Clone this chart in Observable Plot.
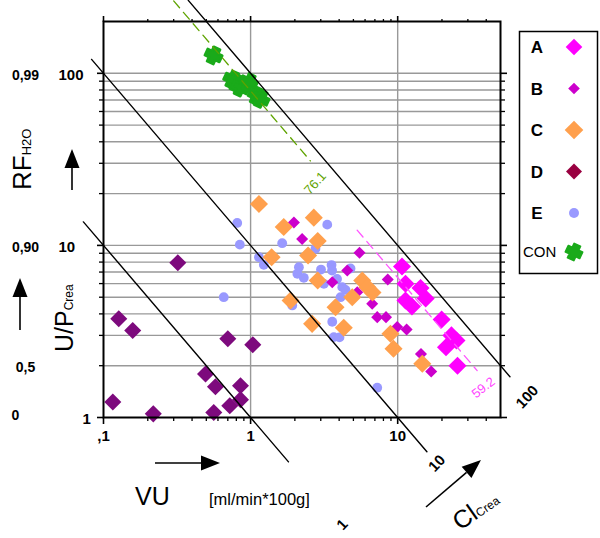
<!DOCTYPE html>
<html><head><meta charset="utf-8">
<script src="https://cdn.jsdelivr.net/npm/d3@7"></script>
<script src="https://cdn.jsdelivr.net/npm/@observablehq/plot@0.6"></script>
<style>
  html,body{margin:0;padding:0;background:#fff}
  #chart svg{display:block;overflow:visible}
</style>
</head><body><div id="chart"></div>
<script>
// ---------- data (VU in ml/min*100g, U/P creatinine ratio) ----------
const aVU = [10.7, 11.3, 14.3, 11.3, 12.5, 15.5, 19.9, 23.2, 25.1, 21.3, 25.5];
const aUP = [7.54, 5.98, 5.65, 4.78, 4.42, 4.91, 3.71, 3.00, 2.80, 2.56, 2.00];
const bVU = [1.97, 2.24, 5.50, 4.54, 3.59, 5.31, 8.56, 6.71, 7.26, 8.33, 9.92, 11.5, 14.4, 16.9];
const bUP = [13.6, 10.9, 9.06, 7.15, 6.11, 5.35, 6.34, 4.58, 3.83, 3.83, 3.36, 3.25, 2.34, 1.85];
const cVU = [1.14, 2.69, 1.68, 2.86, 2.46, 1.39, 2.86, 1.87, 4.91, 3.78, 2.62, 4.30, 5.74, 6.23, 6.74, 8.93, 9.37, 14.7];
const cUP = [17.4, 14.5, 12.8, 10.6, 8.74, 8.54, 6.25, 4.79, 5.00, 4.37, 3.50, 3.32, 6.25, 5.72, 5.33, 3.07, 2.51, 2.05];
const dVU = [0.320, 0.127, 0.158, 0.70, 1.035, 0.494, 0.577, 0.854, 0.1157, 0.218, 0.562, 0.722, 0.854];
const dUP = [7.92, 3.75, 3.20, 2.87, 2.65, 1.79, 1.51, 1.53, 1.23, 1.05, 1.07, 1.17, 1.27];
const eVU = [0.811, 0.845, 0.657, 1.14, 1.23, 1.64, 3.32, 2.13, 2.08, 2.30, 3.01, 3.55, 3.58, 4.78, 3.15, 3.87, 4.20, 4.42, 4.09, 1.92, 3.59, 3.68, 4.02, 7.26, 2.76];
const eUP = [13.5, 10.1, 5.00, 8.54, 7.71, 10.3, 13.2, 7.47, 6.84, 6.48, 7.24, 7.69, 7.15, 7.34, 5.98, 6.38, 5.72, 5.51, 5.00, 4.48, 3.60, 2.93, 2.92, 1.49, 9.56];
const conVU = [0.56, 0.75, 0.80, 0.854, 0.972, 1.10, 1.17];
const conUP = [127, 92, 88, 82.7, 88.8, 74, 71.1];

// iso-clearance lines Cl = VU * U/P
const ciValues = [1, 10, 100];
const ciFrom = [0.073, 0.083, 0.377];
const ciTo = [1.81, 15.8, 58];
const ciLabelVU = [4.2, 18.5, 76];
const ciLabels = ["1", "10", "100"];
// dashed mean lines
const conLine = {ci: 79, from: 0.30, to: 2.55, label: "76.1", labelVU: 2.75, labelUP: 23};
const aLine = {ci: 65, from: 5.3, to: 34.7, label: "59.2", labelVU: 38.2, labelUP: 1.49};

// ticks
const xMinorTicks = [0.2,0.3,0.4,0.5,0.6,0.7,0.8,0.9,2,3,4,5,6,7,8,9,20,30,40];
const xMajorTicks = [0.1, 1, 10];
const xTickLabels = [",1", "1", "10"];
const yMinorTicks = [2,3,4,5,6,7,8,9,20,30,40,50,60,70,80,90];
const yMajorTicks = [1, 10, 100];
const yGridLines = [2,3,4,5,6,7,8,9,10,20,30,40,50,60,70,80,90,100];
const xGridLines = [1, 10];
const rfTickValues = [100, 10, 2, 1];
const rfTickLabels = ["0,99", "0,90", "0,5", "0"];

// legend
const legendKeys = ["A", "B", "C", "D", "E"];
const colA = "#ff00ff", colB = "#cc00cc", colC = "#ffa04d", colD = "#7d0a7d", colE = "#9999ff", colCON = "#1aaa1a";

// ---------- symbols ----------
const diamondSym = {draw(ctx, size) {
  const h = Math.sqrt(size / 2);
  ctx.moveTo(0, -h); ctx.lineTo(h, 0); ctx.lineTo(0, h); ctx.lineTo(-h, 0); ctx.closePath();
}};
const crossSym = {draw(ctx, size) {
  const r = Math.sqrt(size / Math.PI), L = r * 1.1, w = r * 0.48, a = 25 * Math.PI / 180;
  const pts = [[-w,-L],[w,-L],[w,-w],[L,-w],[L,w],[w,w],[w,L],[-w,L],[-w,w],[-L,w],[-L,-w],[-w,-w]]
    .map(([x, y]) => [x * Math.cos(a) - y * Math.sin(a), x * Math.sin(a) + y * Math.cos(a)]);
  ctx.moveTo(...pts[0]); pts.slice(1).forEach(p => ctx.lineTo(...p)); ctx.closePath();
}};

const rows = (vu, up) => vu.map((v, i) => ({vu: v, up: up[i]}));
const ciRows = ciValues.flatMap((c, i) => [{ci: c, vu: ciFrom[i], up: c / ciFrom[i]}, {ci: c, vu: ciTo[i], up: c / ciTo[i]}]);
const segRows = L => [{vu: L.from, up: L.ci / L.from}, {vu: L.to, up: L.ci / L.to}];
const noText = () => "";
const font = "Liberation Sans, Arial, Helvetica, sans-serif";

const plot = Plot.plot({
  width: 600, height: 538,
  marginLeft: 103, marginRight: 100, marginTop: 21, marginBottom: 121,
  x: {type: "log", domain: [0.1, 50], label: null},
  y: {type: "log", domain: [1, 200], label: null},
  style: {fontFamily: font, background: "white", overflow: "visible"},
  marks: [
    Plot.ruleY(yGridLines, {y: d => d, stroke: "#999", strokeWidth: 1.4}),
    Plot.ruleX(xGridLines, {x: d => d, stroke: "#999", strokeWidth: 1.4}),
    Plot.dot(rows(eVU, eUP), {x: "vu", y: "up", r: 4.9, fill: colE, stroke: "none"}),
    Plot.dot(rows(bVU, bUP), {x: "vu", y: "up", r: 4.8, symbol: diamondSym, fill: colB, stroke: "none"}),
    Plot.dot(rows(cVU, cUP), {x: "vu", y: "up", r: 7.2, symbol: diamondSym, fill: colC, stroke: "none"}),
    Plot.dot(rows(aVU, aUP), {x: "vu", y: "up", r: 7.2, symbol: diamondSym, fill: colA, stroke: "none"}),
    Plot.dot(rows(dVU, dUP), {x: "vu", y: "up", r: 6.8, symbol: diamondSym, fill: colD, stroke: "none"}),
    Plot.dot(rows(conVU, conUP), {x: "vu", y: "up", r: 7.3, symbol: crossSym, fill: colCON, stroke: colCON, strokeWidth: 2.5, strokeLinejoin: "round"}),
    Plot.line(ciRows, {x: "vu", y: "up", z: "ci", stroke: "black", strokeWidth: 1.4}),
    Plot.line(segRows(conLine), {x: "vu", y: "up", stroke: "#5fa300", strokeWidth: 1.3, strokeDasharray: "9,6"}),
    Plot.line(segRows(aLine), {x: "vu", y: "up", stroke: "#ff55ff", strokeWidth: 1.3, strokeDasharray: "9,6"}),
    Plot.frame({stroke: "black", strokeWidth: 2}),
    Plot.axisX(xMinorTicks, {anchor: "bottom", tickSize: 4, tickFormat: noText, strokeWidth: 1.3, label: null}),
    Plot.axisX(xMajorTicks, {anchor: "bottom", tickSize: 7, tickFormat: noText, strokeWidth: 1.6, label: null}),
    Plot.axisX(xMinorTicks, {anchor: "top", tickSize: 3, tickFormat: noText, strokeWidth: 1.3, label: null}),
    Plot.axisX(xMajorTicks, {anchor: "top", tickSize: 6, tickFormat: noText, strokeWidth: 1.6, label: null}),
    Plot.axisY(yMinorTicks, {anchor: "left", tickSize: 4, tickFormat: noText, strokeWidth: 1.3, label: null}),
    Plot.axisY(yMajorTicks, {anchor: "left", tickSize: 6, tickFormat: noText, strokeWidth: 1.6, label: null}),
    Plot.axisY(yMinorTicks, {anchor: "right", tickSize: 4, tickFormat: noText, strokeWidth: 1.3, label: null}),
    Plot.axisY(yMajorTicks, {anchor: "right", tickSize: 6, tickFormat: noText, strokeWidth: 1.6, label: null}),
    // tick labels
    Plot.text(xMajorTicks, {x: d => d, text: (d, i) => xTickLabels[i], frameAnchor: "bottom", dy: 23, fontWeight: "bold", fontSize: 15, fill: "black"}),
    Plot.text([100, 10], {y: d => d, text: d => String(d), frameAnchor: "left", dx: -45, dy: 2, textAnchor: "start", fontWeight: "bold", fontSize: 15, fill: "black"}),
    Plot.text([1], {y: d => d, text: d => String(d), frameAnchor: "left", dx: -21, dy: 2, textAnchor: "start", fontWeight: "bold", fontSize: 15, fill: "black"}),
    Plot.text(rfTickValues.slice(0, 3), {y: d => d, text: (d, i) => rfTickLabels[i], frameAnchor: "left", dx: -78, dy: 2, textAnchor: "middle", fontWeight: "bold", fontSize: 14, fill: "black"}),
    Plot.text(rfTickValues.slice(3), {y: d => d, text: () => rfTickLabels[3], frameAnchor: "left", dx: -88, dy: -2, textAnchor: "middle", fontWeight: "bold", fontSize: 14, fill: "black"}),
    // line labels
    Plot.text(ciValues, {x: (d, i) => ciLabelVU[i], y: (d, i) => d / ciLabelVU[i], text: (d, i) => ciLabels[i], rotate: -47, fontWeight: "bold", fontSize: 15, fill: "black"}),
    Plot.text([conLine], {x: "labelVU", y: "labelUP", text: "label", rotate: -48, fontSize: 13, fill: "#5fa300"}),
    Plot.text([aLine], {x: "labelVU", y: "labelUP", text: "label", rotate: -38, fontSize: 13, fill: "#ff44ff"})
  ]
});
document.getElementById("chart").appendChild(plot);

// ---------- annotations (titles, arrows, legend) ----------
const svg = d3.select(plot);
const ann = svg.append("g").attr("font-family", font).attr("fill", "black").attr("text-anchor", "start");

function arrow(x1, y1, x2, y2, headLen = 19, headW = 7.5) {
  const dx = x2 - x1, dy = y2 - y1, len = Math.hypot(dx, dy), ux = dx / len, uy = dy / len;
  const bx = x2 - ux * headLen, by = y2 - uy * headLen;
  ann.append("line").attr("x1", x1).attr("y1", y1).attr("x2", bx).attr("y2", by).attr("stroke", "black").attr("stroke-width", 1.6);
  ann.append("path").attr("d", `M${x2},${y2}L${bx - uy * headW},${by + ux * headW}L${bx + uy * headW},${by - ux * headW}Z`).attr("fill", "black");
}
function subText(x, y, rot, main, sub, mainSize, subSize) {
  const t = ann.append("text").attr("text-anchor", "start").attr("transform", `translate(${x},${y}) rotate(${rot})`);
  t.append("tspan").attr("font-size", mainSize).text(main);
  t.append("tspan").attr("font-size", subSize).text(sub);
  return t;
}
arrow(155, 463, 220, 463);
arrow(72, 190, 72, 149);
arrow(20, 330, 20, 278);
arrow(426, 507, 481, 460);

subText(31, 190, -90, "RF", "H2O", 26, 13);
subText(73, 352, -90, "U/P", "Crea", 25, 12);
ann.append("text").attr("text-anchor", "start").attr("x", 135).attr("y", 505).attr("font-size", 25).text("VU");
ann.append("text").attr("text-anchor", "start").attr("x", 209).attr("y", 505).attr("font-size", 16.5).text("[ml/min*100g]");
subText(460, 531, -35, "Cl", "Crea", 25, 12);

// legend
const lg = svg.append("g").attr("font-family", font).attr("text-anchor", "start");
lg.append("rect").attr("x", 519.5).attr("y", 31.5).attr("width", 78).attr("height", 242).attr("fill", "none").attr("stroke", "black").attr("stroke-width", 1.5);
const legendCols = [colA, colB, colC, "#990040", colE];
const legendSizes = [8.3, 5.8, 9.3, 8, 5];
legendKeys.forEach((k, i) => {
  const y = 47 + i * 41.5;
  lg.append("text").attr("x", 537).attr("y", y).attr("dy", "0.36em").attr("text-anchor", "middle").attr("font-weight", "bold").attr("font-size", 17).text(k);
  if (k === "E") lg.append("circle").attr("cx", 574).attr("cy", y).attr("r", legendSizes[i]).attr("fill", legendCols[i]);
  else lg.append("path").attr("transform", `translate(574,${y})`).attr("d", d3.symbol(diamondSym, 2 * legendSizes[i] ** 2)()).attr("fill", legendCols[i]);
});
lg.append("text").attr("text-anchor", "start").attr("x", 523).attr("y", 252).attr("dy", "0.36em").attr("font-size", 15).text("CON");
lg.append("path").attr("transform", "translate(574,252)").attr("d", d3.symbol(crossSym, Math.PI * 7 * 7)()).attr("fill", colCON).attr("stroke", colCON).attr("stroke-width", 2).attr("stroke-linejoin", "round");
</script>
</body></html>
